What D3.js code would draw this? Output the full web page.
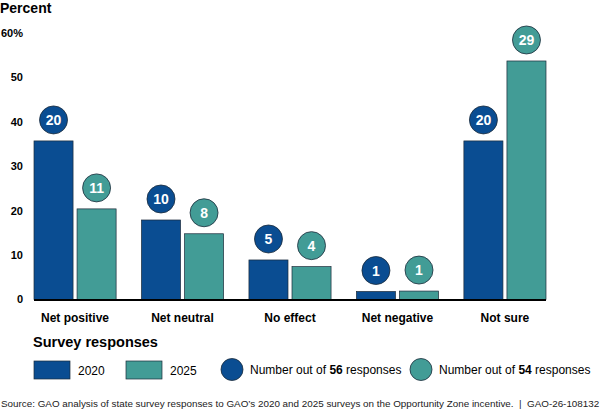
<!DOCTYPE html>
<html>
<head>
<meta charset="utf-8">
<script src="https://cdn.jsdelivr.net/npm/d3@7"></script>
<style>
  body { margin: 0; background: #fff; }
  svg { font-family: Arial, "Liberation Sans", sans-serif; }
</style>
</head>
<body>
<div id="bar-chart"></div>
<script>
// Data
const categories = ["Net positive", "Net neutral", "No effect", "Net negative", "Not sure"];
const years = ["2020", "2025"];
const percent2020 = [35.7, 17.9, 8.9, 1.8, 35.7];
const percent2025 = [20.4, 14.8, 7.4, 1.9, 53.7];
const count2020 = [20, 10, 5, 1, 20];
const count2025 = [11, 8, 4, 1, 29];
const totals = [56, 54];
const yTicks = [0, 10, 20, 30, 40, 50, 60];

const data = categories.map((c, i) => ({
  category: c,
  values: [
    {year: "2020", pct: percent2020[i], n: count2020[i]},
    {year: "2025", pct: percent2025[i], n: count2025[i]}
  ]
}));

const width = 600;
const height = 415;
const blue = "#0a4d92";
const teal = "#429c96";
const edge = "#1c2b3a";
const color = d3.scaleOrdinal().domain(years).range([blue, teal]);

const svg = d3.select("#bar-chart")
  .append("svg")
  .attr("width", width)
  .attr("height", height);

// ------ Scales ------ //
const xScale = d3.scaleBand()
  .domain(categories)
  .range([34, 546])
  .paddingInner(0.236)
  .paddingOuter(0);

const xSub = d3.scaleBand()
  .domain(years)
  .range([0, xScale.bandwidth()])
  .paddingInner(0.093);

const yScale = d3.scaleLinear()
  .domain([0, 60])
  .range([299.5, 33]);

// ------ Axis labels ------ //
svg.append("text")
  .text("Percent")
  .attr("x", 0)
  .attr("y", 13)
  .attr("font-size", 14)
  .attr("font-weight", "bold");

svg.append("g")
  .selectAll("text")
  .data(yTicks)
  .join("text")
    .text(d => d === 60 ? "60%" : d)
    .attr("x", 23)
    .attr("y", d => yScale(d))
    .attr("dy", "0.35em")
    .attr("text-anchor", "end")
    .attr("font-size", 11)
    .attr("font-weight", "bold");

// ------ Bars ------ //
const groups = svg.append("g")
  .selectAll("g")
  .data(data)
  .join("g")
    .attr("transform", d => `translate(${xScale(d.category)}, 0)`);

groups.selectAll("rect")
  .data(d => d.values)
  .join("rect")
    .attr("x", d => xSub(d.year))
    .attr("y", d => yScale(d.pct))
    .attr("width", xSub.bandwidth())
    .attr("height", d => yScale(0) - yScale(d.pct))
    .attr("fill", d => color(d.year))
    .attr("stroke", edge)
    .attr("stroke-width", 0.7);

groups.selectAll("circle")
  .data(d => d.values)
  .join("circle")
    .attr("cx", d => xSub(d.year) + xSub.bandwidth() / 2)
    .attr("cy", d => yScale(d.pct) - 21)
    .attr("r", 14)
    .attr("fill", d => color(d.year))
    .attr("stroke", edge)
    .attr("stroke-width", 0.8);

groups.selectAll("text.count")
  .data(d => d.values)
  .join("text")
    .attr("class", "count")
    .text(d => d.n)
    .attr("x", d => xSub(d.year) + xSub.bandwidth() / 2)
    .attr("y", d => yScale(d.pct) - 21)
    .attr("dy", "0.36em")
    .attr("text-anchor", "middle")
    .attr("fill", "#fff")
    .attr("font-size", 14)
    .attr("font-weight", "bold");

// Baseline
svg.append("line")
  .attr("x1", 34)
  .attr("x2", 546)
  .attr("y1", yScale(0) + 0.5)
  .attr("y2", yScale(0) + 0.5)
  .attr("stroke", "#000")
  .attr("stroke-width", 2);

// Category labels
svg.append("g")
  .selectAll("text")
  .data(categories)
  .join("text")
    .text(d => d)
    .attr("x", d => xScale(d) + xScale.bandwidth() / 2)
    .attr("y", 322)
    .attr("text-anchor", "middle")
    .attr("font-size", 12)
    .attr("font-weight", "bold");

// ------ Legend ------ //
svg.append("text")
  .text("Survey responses")
  .attr("x", 33)
  .attr("y", 347)
  .attr("font-size", 14.5)
  .attr("font-weight", "bold");

const legendRects = [34, 126];
years.forEach((y, i) => {
  svg.append("rect")
    .attr("x", legendRects[i])
    .attr("y", 361)
    .attr("width", 36)
    .attr("height", 18)
    .attr("fill", color(y))
    .attr("stroke", edge)
    .attr("stroke-width", 0.7);
  svg.append("text")
    .text(y)
    .attr("x", legendRects[i] + 44)
    .attr("y", 375)
    .attr("font-size", 12);
});

const legendCircles = [232, 421];
years.forEach((y, i) => {
  svg.append("circle")
    .attr("cx", legendCircles[i])
    .attr("cy", 369.5)
    .attr("r", 11)
    .attr("fill", color(y))
    .attr("stroke", edge)
    .attr("stroke-width", 0.8);
  const t = svg.append("text")
    .attr("x", legendCircles[i] + 18)
    .attr("y", 374)
    .attr("font-size", 12);
  t.append("tspan").text("Number out of ");
  t.append("tspan").text(totals[i]).attr("font-weight", "bold");
  t.append("tspan").text(" responses");
});

// Source note
svg.append("text")
  .text("Source: GAO analysis of state survey responses to GAO\u2019s 2020 and 2025 surveys on the Opportunity Zone incentive.\u00a0\u00a0|\u00a0\u00a0GAO-26-108132")
  .attr("x", 1)
  .attr("y", 407)
  .attr("font-size", 9.85)
  .attr("fill", "#222");
</script>
</body>
</html>
